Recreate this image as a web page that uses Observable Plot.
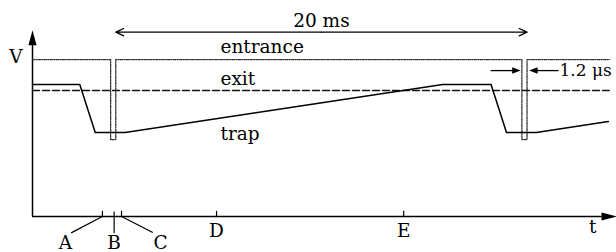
<!DOCTYPE html>
<html>
<head>
<meta charset="utf-8">
<script src="https://cdn.jsdelivr.net/npm/d3@7"></script>
<script src="https://cdn.jsdelivr.net/npm/@observablehq/plot@0.6"></script>
<style>
  html, body { margin: 0; padding: 0; background: #fff; }
</style>
</head>
<body>
<div id="chart"></div>
<script>
// time in ms, voltage in arbitrary units
const trapT = [0, 2.3, 3.05, 4.5, 19.95, 22.3, 23.05, 24.5, 28.0];
const trapV = [7.17, 7.17, 4.57, 4.57, 7.17, 7.17, 4.57, 4.57, 5.16];

const entranceT = [0, 3.8, 3.8, 4.05, 4.05, 23.8, 23.8, 24.05, 24.05, 28.05];
const entranceV = [8.53, 8.53, 4.18, 4.18, 8.53, 8.53, 4.18, 4.18, 8.53, 8.53];

const exitT = [0, 28.05];
const exitV = [6.85, 6.85];

const tickNames = ["A", "B", "C", "D", "E"];
const tickT = [3.4, 3.97, 4.33, 8.95, 18.05];
const labelT = [1.6, 3.97, 6.23, 8.95, 18.05];
const labelV = [-1.78, -1.78, -1.78, -1.09, -1.09];

const periodStart = 4.05, periodEnd = 24.05, periodLabel = "20 ms";
const pulseLabel = "1.2 μs";

const lineNames = ["entrance", "exit", "trap"];
const lineLabelV = [8.9, 7.17, 4.18];

const pts = (T, V) => T.map((t, i) => ({t, v: V[i]}));
const trap = pts(trapT, trapV);
const entrance = pts(entranceT, entranceV);
const exitL = pts(exitT, exitV);

function head(ratio) {
  return {
    draw(ctx, size) {
      const r = Math.sqrt(size / Math.PI);
      ctx.moveTo(0, 0);
      ctx.lineTo(-r * ratio, r);
      ctx.lineTo(r * ratio, r);
      ctx.closePath();
    }
  };
}
const axisHead = head(0.27);
const smallHead = head(0.38);

const font = "DejaVu Serif";
const fs = 18.5;

const plot = Plot.plot({
  width: 616,
  height: 252,
  marginLeft: 32,
  marginRight: 0,
  marginTop: 32,
  marginBottom: 36,
  x: {domain: [0, 28.4], axis: null},
  y: {domain: [0, 10], axis: null},
  style: {background: "#fff", color: "#000"},
  marks: [
    // axes
    Plot.ruleX([0], {y1: 0, y2: 9.6, stroke: "#000", strokeWidth: 1.5}),
    Plot.ruleY([0], {x1: 0, x2: 27.7, stroke: "#000", strokeWidth: 1.5}),
    Plot.dot([{t: 0, v: 10.12}], {x: "t", y: "v", symbol: axisHead, r: 15, fill: "#000", stroke: "none"}),
    Plot.dot([{t: 28.4, v: 0}], {x: "t", y: "v", symbol: axisHead, r: 15, rotate: 90, fill: "#000", stroke: "none"}),
    // ticks
    Plot.ruleX([tickT[0], tickT[2], tickT[3], tickT[4]], {y1: 0, y2: 0.28, stroke: "#000", strokeWidth: 1.2}),
    Plot.ruleX([tickT[1]], {y1: 0.24, y2: -0.92, stroke: "#000", strokeWidth: 1.2}),
    Plot.link([{x1: tickT[0], y1: 0, x2: 1.88, y2: -0.89}, {x1: tickT[2], y1: 0, x2: 5.85, y2: -0.87}],
      {x1: "x1", y1: "y1", x2: "x2", y2: "y2", stroke: "#000", strokeWidth: 1.2}),
    Plot.text(tickNames, {x: (d, i) => labelT[i], y: (d, i) => labelV[i], text: d => d,
      lineAnchor: "bottom", fontFamily: font, fontSize: fs, fill: "#000"}),
    Plot.text(["t"], {x: 27.24, y: -0.92, text: d => d, lineAnchor: "bottom", fontFamily: font, fontSize: fs, fill: "#000"}),
    Plot.text(["V"], {x: -0.8, y: 8.32, text: d => d, lineAnchor: "bottom", fontFamily: font, fontSize: fs, fill: "#000"}),
    // lines
    Plot.line(entrance, {x: "t", y: "v", stroke: "#333", strokeWidth: 1.3, strokeDasharray: "2.5,1.2,1,1.2"}),
    Plot.line(exitL, {x: "t", y: "v", stroke: "#111", strokeWidth: 1.4, strokeDasharray: "7,3"}),
    Plot.line(trap, {x: "t", y: "v", stroke: "#000", strokeWidth: 1.5}),
    Plot.text(lineNames, {x: 9.14, y: (d, i) => lineLabelV[i], text: d => d, textAnchor: "start",
      lineAnchor: "bottom", fontFamily: font, fontSize: fs, fill: "#000"}),
    // 20 ms period arrow
    Plot.arrow([{x1: (periodStart + periodEnd) / 2, x2: periodStart}, {x1: (periodStart + periodEnd) / 2, x2: periodEnd}],
      {x1: "x1", x2: "x2", y1: 10.02, y2: 10.02, stroke: "#000", strokeWidth: 1.3, headLength: 10, headAngle: 50}),
    Plot.text([periodLabel], {x: (periodStart + periodEnd) / 2, y: 10.29, text: d => d, lineAnchor: "bottom",
      fontFamily: font, fontSize: fs, fill: "#000"}),
    // 1.2 us pulse arrows
    Plot.link([{x1: 22.28, x2: 23.4}, {x1: 25.58, x2: 24.5}], {x1: "x1", x2: "x2", y1: 7.93, y2: 7.93, stroke: "#000", strokeWidth: 1.3}),
    Plot.dot([{t: 23.74, v: 7.93, a: 90}, {t: 24.15, v: 7.93, a: -90}], {x: "t", y: "v", rotate: "a", symbol: smallHead, r: 8.5, fill: "#000", stroke: "none"}),
    Plot.text([pulseLabel], {x: 25.63, y: 7.66, text: d => d, textAnchor: "start", lineAnchor: "bottom",
      fontFamily: font, fontSize: 17, fill: "#000"})
  ]
});
document.getElementById("chart").appendChild(plot);
</script>
</body>
</html>
